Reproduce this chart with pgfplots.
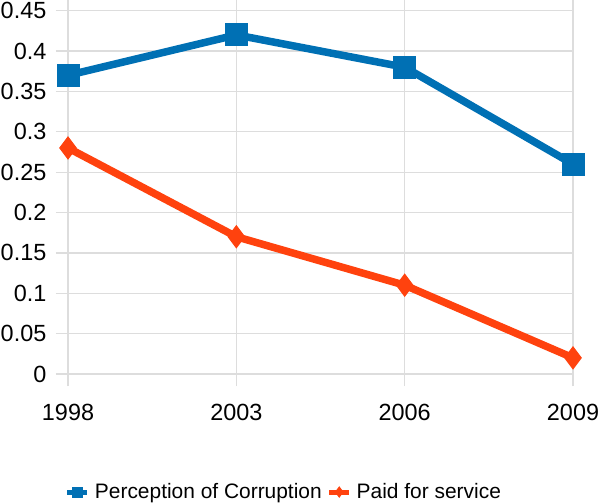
\documentclass[border=0pt]{standalone}
\usepackage{pgfplots}
\pgfplotsset{compat=1.18}
\usepackage{fontspec}
\setmainfont{Liberation Sans}
\definecolor{sblue}{HTML}{0070B4}
\definecolor{sorange}{HTML}{FF420E}
\definecolor{gridc}{HTML}{DDDDDD}
\begin{document}
\begin{tikzpicture}[x=1bp,y=1bp]
\begin{axis}[
  at={(56bp,130bp)}, anchor=south west,
  scale only axis,
  width=517bp, height=363.3bp,
  xmin=-0.0714, xmax=3,
  ymin=0, ymax=0.45,
  xtick={0,1,2,3},
  xticklabels={1998,2003,2006,2009},
  ytick={0,0.05,...,0.451},
  yticklabels={0,0.05,0.1,0.15,0.2,0.25,0.3,0.35,0.4,0.45},
  axis line style={draw=none},
  xmajorgrids, ymajorgrids,
  grid style={gridc, line width=1.2bp},
  major tick style={gridc, line width=1.2bp},
  xtick align=outside,
  ytick style={draw=none},
  major tick length=12bp,
  tick label style={font=\fontsize{23.5}{28}\selectfont},
  /pgf/number format/assume math mode=true,
  yticklabel style={inner sep=0pt, xshift=-9.5bp},
  xticklabel style={inner sep=0pt, anchor=north, yshift=-18bp},
  legend columns=2,
  legend style={draw=none, fill=none, at={(axis description cs:0.017,-0.325)}, anchor=west,
    font=\fontsize{21}{25}\selectfont, inner sep=0pt, column sep=3bp},
  legend cell align=left,
  legend image code/.code={
    \draw[#1,line width=5bp,mark=none] (0bp,0bp) -- (20bp,0bp);
    \draw[#1,line width=0.8bp,mark size=5bp] plot coordinates {(10bp,0bp)};
  },
]
\addplot[sblue, line width=7.5bp, mark=square*, mark size=11bp,
  mark options={solid, line width=1bp}] coordinates {
  (0,0.37) (1,0.42) (2,0.38) (3,0.26)};
\addlegendentry{Perception of Corruption}
\addplot[sorange, line width=7.5bp, mark=diamond*, mark size=11bp,
  mark options={solid, line width=1bp}] coordinates {
  (0,0.28) (1,0.17) (2,0.11) (3,0.02)};
\addlegendentry{Paid for service}
\end{axis}
\pgfresetboundingbox
\path (0,0) rectangle (600bp,504bp);
\end{tikzpicture}
\end{document}
